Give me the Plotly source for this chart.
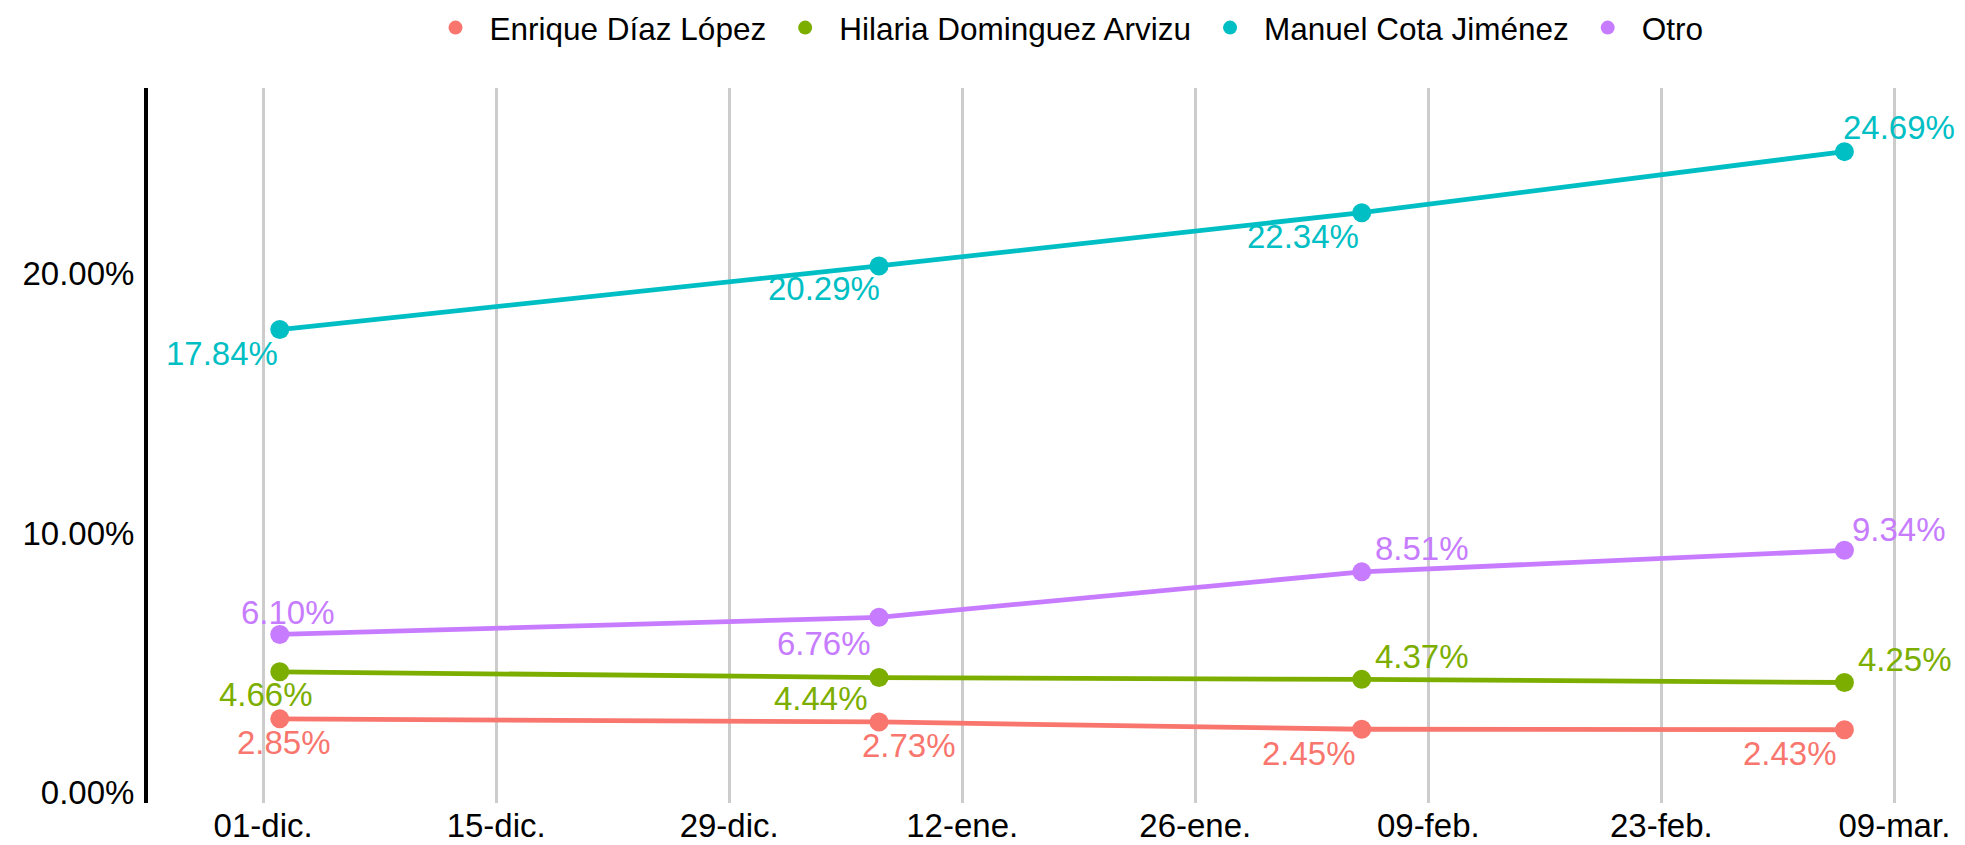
import plotly.graph_objects as go

# ---- data ----
dates = ["2022-12-02", "2023-01-07", "2023-02-05", "2023-03-06"]
series_names = ["Enrique Díaz López", "Hilaria Dominguez Arvizu", "Manuel Cota Jiménez", "Otro"]
enrique = [2.85, 2.73, 2.45, 2.43]
hilaria = [4.66, 4.44, 4.37, 4.25]
manuel = [17.84, 20.29, 22.34, 24.69]
otro = [6.10, 6.76, 8.51, 9.34]
tick_dates = ["2022-12-01", "2022-12-15", "2022-12-29", "2023-01-12",
              "2023-01-26", "2023-02-09", "2023-02-23", "2023-03-09"]
tick_labels = ["01-dic.", "15-dic.", "29-dic.", "12-ene.", "26-ene.", "09-feb.", "23-feb.", "09-mar."]
y_ticks = [0, 10, 20]
y_tick_labels = ["0.00%", "10.00%", "20.00%"]

# ---- style ----
colors = ["#F8766D", "#7CAE00", "#00BFC4", "#C77CFF"]
# label offsets in px (xshift, yshift) per series/point
label_offsets = [
    [(4, -24), (30, -24), (-53, -24), (-54, -24)],
    [(-14, -23), (-58, -21), (60, 23), (61, 23)],
    [(-58, -24), (-55, -23), (-59, -24), (55, 24)],
    [(8, 22), (-55, -26), (60, 23), (55, 21)],
]
FONT = "Liberation Sans, Arial, sans-serif"
FS = 33
# the page body adds an 8px offset; the figure is sized to fill the rest
W, H, OFF = 1965 - 8, 845 - 8, 8

all_values = [enrique, hilaria, manuel, otro]

fig = go.Figure()
for name, vals, col in zip(series_names, all_values, colors):
    fig.add_trace(go.Scatter(
        x=dates, y=[v / 100 for v in vals], mode="lines+markers", name=name,
        line=dict(color=col, width=4.8), marker=dict(color=col, size=19),
        showlegend=False,
    ))
# legend entries (dots only)
for name, col in zip(series_names, colors):
    fig.add_trace(go.Scatter(
        x=[None], y=[None], mode="markers", name=name,
        marker=dict(color=col, size=14), showlegend=True,
    ))

annotations = []
for vals, col, offs in zip(all_values, colors, label_offsets):
    for d, v, (dx, dy) in zip(dates, vals, offs):
        annotations.append(dict(
            x=d, y=v / 100, xref="x", yref="y", text=f"{v:.2f}%", showarrow=False,
            xshift=dx, yshift=dy, font=dict(family=FONT, size=FS, color=col),
            xanchor="center", yanchor="middle",
        ))

fig.update_layout(
    width=W, height=H,
    margin=dict(l=148 - OFF, r=20, t=88 - OFF, b=42, autoexpand=False),
    paper_bgcolor="white", plot_bgcolor="white",
    font=dict(family=FONT, size=FS, color="black"),
    annotations=annotations,
    legend=dict(orientation="h", xref="container", x=(1065 - OFF) / W, xanchor="center",
                yref="container", y=1 - (27.6 - OFF) / H, yanchor="middle",
                font=dict(family=FONT, size=31.5, color="black"),
                itemwidth=58, bgcolor="rgba(0,0,0,0)"),
    xaxis=dict(
        type="date", range=["2022-11-24 02:00", "2023-03-12 01:00"],
        tickvals=tick_dates, ticktext=tick_labels, ticks="",
        showgrid=True, gridcolor="#cccccc", gridwidth=2.5,
        showline=False, zeroline=False, automargin=False,
        tickfont=dict(family=FONT, size=FS, color="black"),
        ticklabelstandoff=0,
    ),
    yaxis=dict(
        range=[-0.0039, 0.2714],
        tickvals=[t / 100 for t in y_ticks], ticktext=y_tick_labels, ticks="",
        showgrid=False, zeroline=False, automargin=False,
        showline=True, linecolor="black", linewidth=4,
        tickfont=dict(family=FONT, size=FS, color="black"),
        ticklabelstandoff=3,
    ),
)

fig.write_html("out.html")
